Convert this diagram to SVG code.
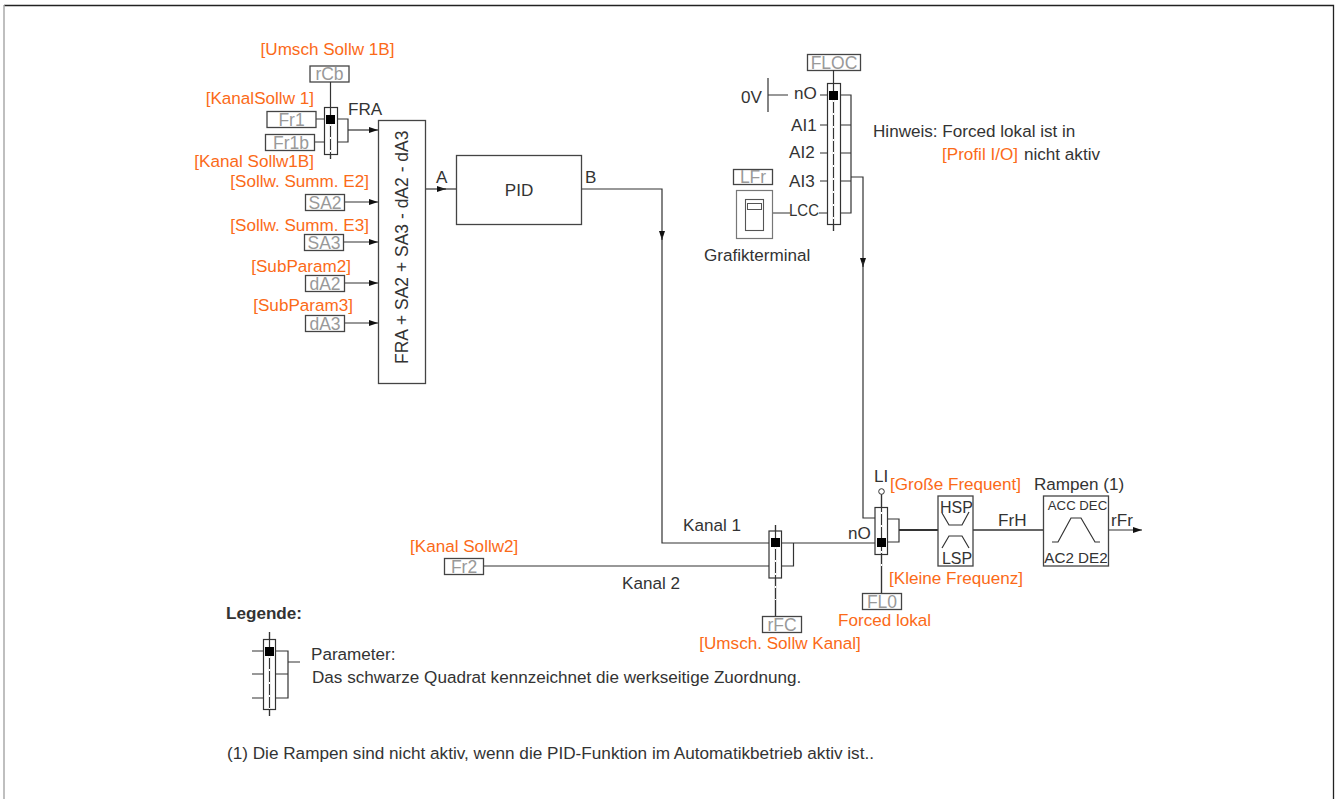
<svg xmlns="http://www.w3.org/2000/svg" width="1336" height="799" viewBox="0 0 1336 799">
<style>
text{font-family:"Liberation Sans",Arial,sans-serif;font-size:17.1px;fill:#333}
.o{fill:#fb6a18}
.p{fill:#999;font-size:17.5px}
.m{text-anchor:middle}
.e{text-anchor:end}
.b{fill:#fff;stroke:#444;stroke-width:1.3}
.l{fill:none;stroke:#333;stroke-width:1.2}
.sw{fill:#fff;stroke:#333;stroke-width:1.2}
.d{stroke:#fff;stroke-width:1.2;stroke-dasharray:2 11;fill:none}
.a{marker-end:url(#ah)}
</style>
<defs>
<marker id="ah" markerUnits="userSpaceOnUse" markerWidth="10" markerHeight="7" refX="9" refY="3" orient="auto"><path d="M0 0L9 3L0 6z" fill="#111"/></marker>
</defs>
<rect width="1336" height="799" fill="#fff"/>
<g id="frame"><path d="M4 5.500H1333.500V799" fill="none" stroke="#222" stroke-width="1.3"/><path d="M4 5V799" stroke="#aaa" stroke-width="1.500"/></g>
<g id="connectors">
<path class="l" d="M316 119H324M314 142H324M337 119H348V142H337"/>
<path class="l a" d="M348 130H378"/>
<path class="l a" d="M344 202H378"/>
<path class="l a" d="M343 242H378"/>
<path class="l a" d="M344 283H378"/>
<path class="l a" d="M344 323H378"/>
<path class="l a" d="M426 189H446"/><path class="l" d="M440 189H456"/>
<path class="l a" d="M581 189H662V240"/><path class="l" d="M662 236V543H769"/>
<path class="l" d="M483 566H769M781 543H875M781 566H793.500V543"/>
<path class="l" d="M768 78V112M768 95H788M820 95H827M820 125H827M820 153H827M820 181H827M819 213H827"/>
<path class="l" d="M840 95H851V213H840M840 125H851M840 153H851M840 181H851M772 213H790"/>
<path class="l a" d="M851 177H863V267"/><path class="l" d="M863 262V518H875"/>
<path class="l" d="M887 519H899V542H887"/>
<path d="M899 530H938" stroke="#333" stroke-width="2" fill="none"/>
<path d="M973 530H1043" stroke="#333" stroke-width="1.600" fill="none"/>
<path class="l a" d="M1108 530H1142"/>
</g>
<g id="rCb"><rect class="b" x="310" y="66" width="39" height="16"/><text class="p m" x="329.500" y="80">rCb</text></g>
<text class="o m" x="327.500" y="55">[Umsch Sollw 1B]</text>
<g id="switch-fra"><path class="l" d="M330.500 82V159"/><rect class="sw" x="324.500" y="107.500" width="13" height="47"/><path class="l" d="M330.500 107V159"/><path class="d" d="M330.500 124V154"/><rect x="326" y="115" width="9" height="9" fill="#000"/></g>
<text class="o e" x="314" y="104">[KanalSollw 1]</text>
<g id="Fr1"><rect class="b" x="267" y="111.500" width="49" height="16"/><text class="p m" x="291.500" y="125.500">Fr1</text></g>
<g id="Fr1b"><rect class="b" x="265.500" y="134.500" width="49" height="16"/><text class="p m" x="291" y="148.500">Fr1b</text></g>
<text class="o e" x="314" y="167">[Kanal Sollw1B]</text>
<text x="348" y="115">FRA</text>
<g id="sum"><rect class="b" x="378.500" y="120.500" width="47" height="263"/><text transform="translate(408 364) rotate(-90)" style="font-size:17.500px">FRA + SA2 + SA3 - dA2 - dA3</text></g>
<text class="o e" x="369" y="187">[Sollw. Summ. E2]</text>
<g id="SA2"><rect class="b" x="305.500" y="194.500" width="39" height="16"/><text class="p m" x="325" y="208.500">SA2</text></g>
<text class="o e" x="369" y="231">[Sollw. Summ. E3]</text>
<g id="SA3"><rect class="b" x="304.500" y="234.500" width="39" height="16"/><text class="p m" x="324" y="248.500">SA3</text></g>
<text class="o e" x="351" y="271.500">[SubParam2]</text>
<g id="dA2"><rect class="b" x="305.500" y="275.500" width="39" height="16"/><text class="p m" x="325" y="289.500">dA2</text></g>
<text class="o e" x="353" y="311">[SubParam3]</text>
<g id="dA3"><rect class="b" x="305.500" y="315.500" width="39" height="16"/><text class="p m" x="325" y="329.500">dA3</text></g>
<text x="436" y="183">A</text>
<g id="PID"><rect class="b" x="456.500" y="155.500" width="125" height="69"/><text class="m" x="519" y="196">PID</text></g>
<text x="585" y="183">B</text>
<g id="FLOC"><rect class="b" x="807.500" y="54.500" width="53" height="16"/><text class="p m" x="834" y="68.500">FLOC</text></g>
<g id="switch-floc"><path class="l" d="M833.500 70V231"/><rect class="sw" x="827.500" y="83.500" width="13" height="141"/><path class="l" d="M833.500 83V231"/><path class="d" d="M833.500 100V224"/><rect x="829" y="91" width="9" height="9" fill="#000"/></g>
<text x="741" y="103">0V</text>
<text x="794" y="99">nO</text>
<text x="791" y="131">AI1</text>
<text x="789" y="158">AI2</text>
<text x="789" y="187">AI3</text>
<text x="789" y="216" textLength="30" lengthAdjust="spacingAndGlyphs">LCC</text>
<g id="LFr"><rect class="b" x="733.500" y="169.500" width="39" height="15"/><text class="p m" x="753" y="182.500">LFr</text></g>
<g id="terminal"><rect x="736.500" y="190.500" width="36" height="48" fill="#fff" stroke="#777" stroke-width="1.200"/><rect x="745.500" y="199.500" width="18" height="31" fill="#fff" stroke="#555" stroke-width="1.100"/><rect x="747.500" y="203.500" width="14" height="6" fill="#fff" stroke="#555"/></g>
<text x="704" y="261">Grafikterminal</text>
<text x="873" y="137">Hinweis: Forced lokal ist in</text>
<text class="o" x="942" y="160">[Profil I/O]</text>
<text x="1024" y="160">nicht aktiv</text>
<text x="683" y="531">Kanal 1</text>
<text x="622" y="589">Kanal 2</text>
<text class="o" x="410" y="552">[Kanal Sollw2]</text>
<g id="Fr2"><rect class="b" x="444.500" y="558.500" width="39" height="16"/><text class="p m" x="464" y="572.500">Fr2</text></g>
<g id="switch-kanal"><path class="l" d="M775.500 525V616"/><rect class="sw" x="769" y="531" width="12.500" height="47"/><path class="l" d="M775.500 525V616"/><path class="d" d="M775.500 547V600"/><rect x="771" y="538" width="9" height="9" fill="#000"/></g>
<g id="rFC"><rect class="b" x="762.500" y="616.500" width="39" height="16"/><text class="p m" x="782" y="630.500">rFC</text></g>
<text class="o m" x="780" y="649">[Umsch. Sollw Kanal]</text>
<text x="848" y="539">nO</text>
<text x="874" y="482">LI</text>
<g id="switch-li"><circle cx="881.500" cy="491.500" r="2.800" fill="#fff" stroke="#333"/><path class="l" d="M881.500 494.500V593"/><rect class="sw" x="875" y="507.500" width="12.500" height="47"/><path class="l" d="M881.500 494.500V593"/><path class="d" d="M881.500 512V575"/><rect x="877" y="538" width="9" height="9" fill="#000"/></g>
<text class="o" x="890" y="490">[Große Frequent]</text>
<g id="limit"><rect class="b" x="938" y="496" width="35" height="70"/><path class="l" d="M942 513L949 525H962L969 512M942 548L949 536H962L969 548"/><text class="m" x="956.500" y="513" style="font-size:16px">HSP</text><text class="m" x="957" y="564" style="font-size:16px">LSP</text></g>
<text class="o" x="889" y="584">[Kleine Frequenz]</text>
<g id="FL0"><rect class="b" x="862.500" y="593.500" width="39" height="16"/><text class="p m" x="882" y="607.500">FL0</text></g>
<text class="o" x="838" y="626">Forced lokal</text>
<text x="998" y="526">FrH</text>
<text x="1034" y="490">Rampen (1)</text>
<g id="ramp"><rect class="b" x="1043.500" y="496" width="65" height="70"/><path class="l" d="M1052 542H1058L1071 518H1081L1095 542H1100"/><text class="m" x="1077.500" y="510" style="font-size:13.200px">ACC DEC</text><text class="m" x="1076" y="563" style="font-size:15.200px">AC2 DE2</text></g>
<text x="1111" y="526">rFr</text>
<text x="226" y="619" font-weight="bold">Legende:</text>
<g id="legend"><path class="l" d="M252 651H264M252 674H264M252 698H264M276 651H288V698H276M276 674H288M288 662H300"/><path class="l" d="M269.500 632V716"/><rect class="sw" x="263.500" y="639.500" width="12" height="70"/><path class="l" d="M269.500 632V716"/><path class="d" d="M269.500 656V709"/><rect x="265" y="647" width="9" height="9" fill="#000"/></g>
<text x="311" y="660">Parameter:</text>
<text x="312" y="683">Das schwarze Quadrat kennzeichnet die werkseitige Zuordnung.</text>
<text x="227" y="759" textLength="647" lengthAdjust="spacingAndGlyphs">(1) Die Rampen sind nicht aktiv, wenn die PID-Funktion im Automatikbetrieb aktiv ist..</text>
</svg>
